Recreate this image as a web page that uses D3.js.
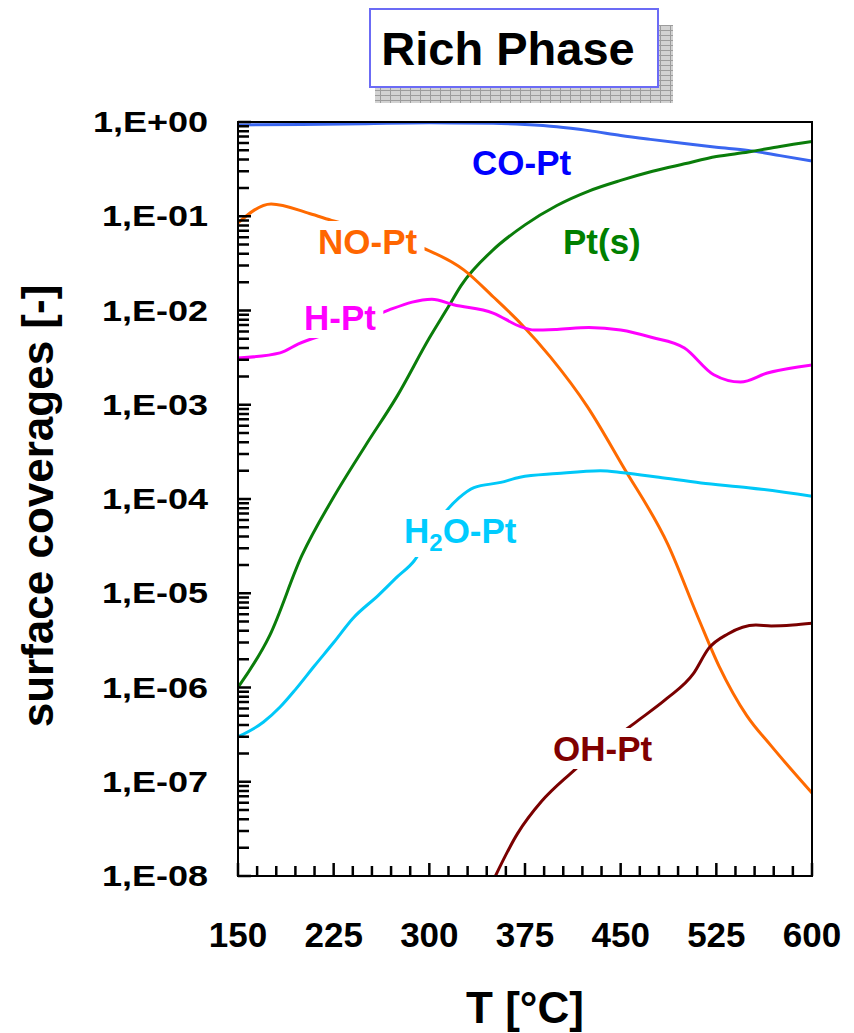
<!DOCTYPE html>
<html>
<head>
<meta charset="utf-8">
<script src="https://cdn.jsdelivr.net/npm/d3@7"></script>
<style>
  body { margin: 0; background: #fff; }
  text { font-family: Arial, "Liberation Sans", sans-serif; font-weight: bold; }
</style>
</head>
<body>
<div id="chart-area"></div>
<script>
// surface coverages vs temperature

const tempCO = [150, 200, 250, 300, 350, 375, 400, 425, 450, 475, 500, 525, 550, 575, 600];
const coPt   = [0.93, 0.94, 0.96, 0.98, 0.97, 0.94, 0.89, 0.81, 0.72, 0.65, 0.59, 0.54, 0.50, 0.44, 0.385];

const tempPt = [150, 175, 200, 225, 250, 275, 300, 315, 325, 350, 375, 400, 425, 450, 475, 500, 525, 550, 575, 600];
const ptS    = [1.0e-6, 3.6e-6, 2.5e-5, 1.05e-4, 3.7e-4, 1.25e-3, 5.1e-3, 1.1e-2, 1.85e-2, 4.4e-2, 8.1e-2, 0.13, 0.185, 0.24, 0.30, 0.36, 0.43, 0.48, 0.55, 0.62];

const tempNO = [150, 176, 206, 225, 250, 275, 300, 327, 350, 372, 395, 424, 452, 487, 511, 527, 549, 568, 600];
const noPt   = [8.5e-2, 1.35e-1, 1.07e-1, 8.9e-2, 7.2e-2, 5.6e-2, 4.3e-2, 2.7e-2, 1.4e-2, 7.2e-3, 3.2e-3, 9.5e-4, 2.2e-4, 3.3e-5, 5.4e-6, 1.7e-6, 5.0e-7, 2.4e-7, 7.6e-8];

const tempH = [150, 183, 197, 225, 250, 268, 302, 319, 350, 372, 382, 400, 425, 450, 474, 500, 523, 544, 565, 600];
const hPt   = [3.13e-3, 3.55e-3, 4.4e-3, 6.0e-3, 8.0e-3, 1.01e-2, 1.32e-2, 1.15e-2, 9.4e-3, 6.7e-3, 6.2e-3, 6.3e-3, 6.6e-3, 6.2e-3, 5.2e-3, 4.0e-3, 2.08e-3, 1.74e-3, 2.17e-3, 2.64e-3];

const tempH2O = [150, 170, 183, 195, 210, 225, 240, 260, 275, 288, 300, 312, 323, 335, 356, 371, 400, 434, 452, 480, 513, 550, 600];
const h2oPt   = [3.0e-7, 4.3e-7, 6.2e-7, 9.5e-7, 1.7e-6, 3.0e-6, 5.4e-6, 9.5e-6, 1.5e-5, 2.2e-5, 4.0e-5, 7.1e-5, 1.02e-4, 1.32e-4, 1.5e-4, 1.7e-4, 1.86e-4, 2.0e-4, 1.9e-4, 1.7e-4, 1.48e-4, 1.32e-4, 1.07e-4];

const tempOH = [348, 369, 388, 410, 435, 463, 486, 507, 519, 534, 556, 568, 585, 600];
const ohPt   = [7.8e-9, 2.8e-8, 6.2e-8, 1.2e-7, 2.3e-7, 4.4e-7, 7.6e-7, 1.4e-6, 2.6e-6, 3.7e-6, 4.6e-6, 4.5e-6, 4.6e-6, 4.8e-6];

const xTicks = [150, 225, 300, 375, 450, 525, 600];
const yTicks = [1e-8, 1e-7, 1e-6, 1e-5, 1e-4, 1e-3, 1e-2, 1e-1, 1];

const width = 854, height = 1033;
const plot = {left: 238, right: 812, top: 122, bottom: 876};

let svg = d3.select("#chart-area").append("svg")
    .attr("width", width)
    .attr("height", height);

// Scales
let x = d3.scaleLinear().domain([150, 600]).range([plot.left, plot.right]);
let y = d3.scaleLog().domain([1e-8, 1]).range([plot.bottom, plot.top]);

let defs = svg.append("defs");
defs.append("clipPath").attr("id", "clip")
  .append("rect")
    .attr("x", plot.left).attr("y", plot.top)
    .attr("width", plot.right - plot.left).attr("height", plot.bottom - plot.top);

let pat = defs.append("pattern").attr("id", "grid")
    .attr("patternUnits", "userSpaceOnUse")
    .attr("width", 10).attr("height", 5);
pat.append("rect").attr("width", 10).attr("height", 5).attr("fill", "#d2d2d2");
pat.append("path").attr("d", "M0,0.5H10M0.5,0V5").attr("stroke", "#9c9c9c").attr("stroke-width", 1);

// title box with shadow
svg.append("rect")
    .attr("x", 375).attr("y", 25).attr("width", 298).attr("height", 78)
    .attr("fill", "url(#grid)");
svg.append("rect")
    .attr("x", 370).attr("y", 9).attr("width", 288).attr("height", 78)
    .attr("fill", "#fff").attr("stroke", "#6b6bf5").attr("stroke-width", 2);
svg.append("text")
    .attr("x", 508).attr("y", 65)
    .attr("text-anchor", "middle")
    .style("font-size", "47px")
    .text("Rich Phase");

// series
let series = [
  {temps: tempCO,  vals: coPt,  color: "#3a66f0"},
  {temps: tempPt,  vals: ptS,   color: "#0a7d0a"},
  {temps: tempNO,  vals: noPt,  color: "#ff6a00"},
  {temps: tempH,   vals: hPt,   color: "#ff00ff"},
  {temps: tempH2O, vals: h2oPt, color: "#00c8f8"},
  {temps: tempOH,  vals: ohPt,  color: "#7a0000"}
];

let line = d3.line()
    .x(d => x(d[0]))
    .y(d => y(d[1]))
    .curve(d3.curveMonotoneX);

let lines = svg.append("g").attr("clip-path", "url(#clip)");
series.forEach(s => {
  lines.append("path")
    .datum(s.temps.map((t, i) => [t, s.vals[i]]))
    .attr("fill", "none")
    .attr("stroke", s.color)
    .attr("stroke-width", 3)
    .attr("d", line);
});

// curve labels (white box behind breaks the lines like in the original)
let labels = [
  {text: "CO-Pt",  x: 472, y: 175, color: "#0000ff"},
  {text: "NO-Pt",  x: 318, y: 254, color: "#ff6600"},
  {text: "Pt(s)",  x: 563, y: 254, color: "#008000"},
  {text: "H-Pt",   x: 304, y: 330, color: "#ff00ff"},
  {text: "H2O-Pt", x: 404, y: 543, color: "#00ccff"},
  {text: "OH-Pt",  x: 553, y: 761, color: "#800000"}
];
let labG = svg.append("g");
labels.forEach(l => {
  let g = labG.append("g");
  let bg = g.append("rect").attr("fill", "#fff");
  let t = g.append("text")
      .attr("x", l.x).attr("y", l.y)
      .attr("fill", l.color)
      .style("font-size", "35px");
  if (l.text === "H2O-Pt") {
    t.append("tspan").text("H");
    t.append("tspan").text("2").attr("dy", 8).style("font-size", "24px");
    t.append("tspan").text("O-Pt").attr("dy", -8);
  } else {
    t.text(l.text);
  }
  let b = t.node().getBBox();
  bg.attr("x", b.x - 7).attr("y", b.y - 1)
    .attr("width", b.width + 14).attr("height", b.height + 2);
});

// frame
svg.append("rect")
    .attr("x", plot.left).attr("y", plot.top)
    .attr("width", plot.right - plot.left).attr("height", plot.bottom - plot.top)
    .attr("fill", "none").attr("stroke", "#000").attr("stroke-width", 2);

// ticks pointing inward, placed with the scales (drawn as one path)
let minorY = [];
yTicks.slice(0, -1).forEach(d => { for (let k = 2; k <= 9; k++) minorY.push(d * k); });
let minorX = d3.range(150, 601, 15).filter(d => xTicks.indexOf(d) < 0);

let tickPath = d3.path();
minorY.forEach(d => { tickPath.moveTo(plot.left, y(d)); tickPath.lineTo(plot.left + 11, y(d)); });
yTicks.forEach(d => { tickPath.moveTo(plot.left, y(d)); tickPath.lineTo(plot.left + 13, y(d)); });
minorX.forEach(d => { tickPath.moveTo(x(d), plot.bottom); tickPath.lineTo(x(d), plot.bottom - 10); });
xTicks.forEach(d => { tickPath.moveTo(x(d), plot.bottom); tickPath.lineTo(x(d), plot.bottom - 13); });

svg.append("path")
    .attr("d", tickPath.toString())
    .attr("fill", "none")
    .attr("stroke", "#000")
    .attr("stroke-width", 2.5);

let fmtY = d => {
  let e = Math.round(Math.log10(d));
  return "1,E" + (e < 0 ? "-" : "+") + String(Math.abs(e)).padStart(2, "0");
};
svg.append("g").selectAll("text")
  .data(yTicks)
  .join("text")
    .attr("transform", d => "translate(208," + (y(d) + 10) + ") scale(1.2,1)")
    .attr("text-anchor", "end")
    .style("font-size", "30px")
    .text(fmtY);

svg.append("g").selectAll("text")
  .data(xTicks)
  .join("text")
    .attr("x", d => x(d)).attr("y", 947)
    .attr("text-anchor", "middle")
    .style("font-size", "35px")
    .text(d => d);

// axis titles
svg.append("text")
    .attr("x", 525).attr("y", 1023)
    .attr("text-anchor", "middle")
    .style("font-size", "44px")
    .text("T [°C]");

svg.append("text")
    .attr("transform", "translate(53,506) rotate(-90)")
    .attr("text-anchor", "middle")
    .style("font-size", "44px")
    .text("surface coverages [-]");
</script>
</body>
</html>
